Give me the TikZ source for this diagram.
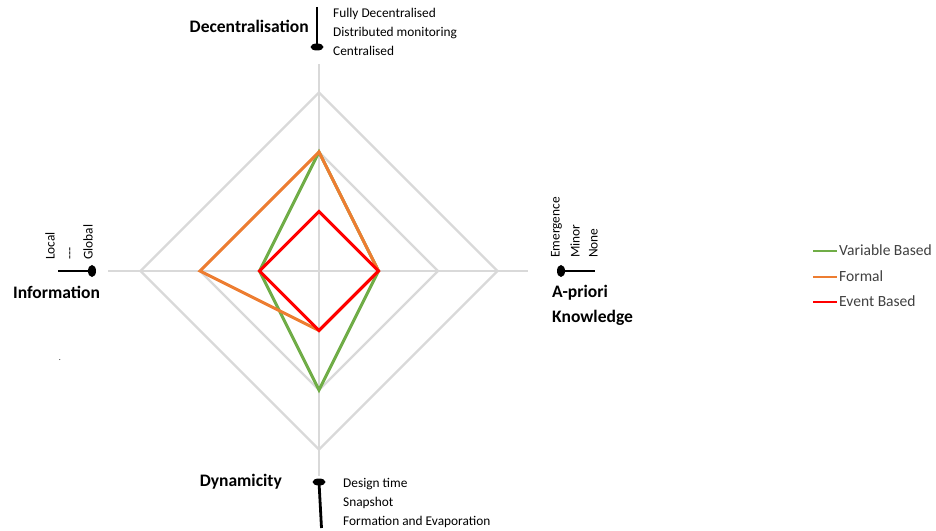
\documentclass[tikz,border=0pt]{standalone}
\usepackage{fontspec}
\setmainfont{Carlito}
\usetikzlibrary{calc,shapes.geometric}
\begin{document}
\begin{tikzpicture}[x=1bp,y=-1bp,
  grid/.style={draw=gridgray,line width=2.4bp},
  series/.style={line width=3bp,line join=miter},
  slider/.style={line width=2.8bp,black},
  knob/.style={ellipse,fill=black,inner sep=0pt},
  lbl/.style={font=\fontsize{13.4}{15}\selectfont,inner sep=0pt,text height=1.6ex,text depth=0.45ex},
  rlbl/.style={lbl,rotate=90,anchor=west},
  axisname/.style={font=\fontsize{17.6}{19}\selectfont\bfseries,inner sep=0pt,text height=1.6ex,text depth=0.45ex},
  leg/.style={font=\fontsize{15.6}{17}\selectfont,inner sep=0pt,anchor=west,text height=1.6ex,text depth=0.45ex,text=black!75}]
\definecolor{gridgray}{RGB}{217,217,217}
\definecolor{vgreen}{RGB}{112,173,71}
\definecolor{forange}{RGB}{237,125,49}
\definecolor{ered}{RGB}{255,0,0}
\useasboundingbox (0,0) rectangle (936,531);

% centre of the radar chart and scale steps
\coordinate (O) at (319,271);
\def\st{59.5}

% grid rings
\foreach \r in {1,2,3}{
  \draw[grid] ($(O)+(0,-\r*\st)$) -- ($(O)+(\r*\st,0)$) -- ($(O)+(0,\r*\st)$) -- ($(O)+(-\r*\st,0)$) -- cycle;
}
% axis spokes
\coordinate (axT) at (319,64);
\coordinate (axR) at (528,271);
\coordinate (axB) at (319,476);
\coordinate (axL) at (108,271);
\foreach \a in {axT,axR,axB,axL}{\draw[grid] (O) -- (\a);}

% data series
\draw[series,vgreen] ($(O)+(0,-2*\st)$) -- ($(O)+(\st,0)$) -- ($(O)+(0,2*\st)$) -- ($(O)+(-\st,0)$) -- cycle;
\draw[series,forange] ($(O)+(0,-2*\st)$) -- ($(O)+(\st,0)$) -- ($(O)+(0,\st)$) -- ($(O)+(-2*\st,0)$) -- cycle;
\draw[series,ered] ($(O)+(0,-\st)$) -- ($(O)+(\st,0)$) -- ($(O)+(0,\st)$) -- ($(O)+(-\st,0)$) -- cycle;

% Decentralisation slider
\coordinate (tTop) at (317,7);
\node[knob,minimum width=13bp,minimum height=7bp] (kT) at (317,47) {};
\draw[slider] (tTop) -- (kT.center);
\node[axisname,anchor=east] (nDec) at (309,30) {Decentralisation};
\node[lbl,anchor=west] (d1) at (333,15) {Fully Decentralised};
\node[lbl,anchor=west] (d2) at (333,34) {Distributed monitoring};
\node[lbl,anchor=west] (d3) at (333,53) {Centralised};

% Information slider
\coordinate (lEnd) at (58,271);
\node[knob,minimum width=8bp,minimum height=12bp] (kL) at (92,271) {};
\draw[slider] (lEnd) -- (kL.center);
\node[axisname,anchor=west] (nInf) at (13,296) {Information};
\node[rlbl] (i1) at (52,260) {Local};
\node[rlbl] (i2) at (71,260) {-{}-{}-};
\node[rlbl] (i3) at (90,260) {Global};
\node[font=\fontsize{8}{9}\selectfont,inner sep=0pt] (dot) at (60,360) {.};

% A-priori Knowledge slider
\coordinate (rEnd) at (595,271);
\node[knob,minimum width=8bp,minimum height=12bp] (kR) at (561,271) {};
\draw[slider] (kR.center) -- (rEnd);
\node[axisname,anchor=west] (nApr) at (552,295) {A-priori};
\node[axisname,anchor=west] (nKno) at (552,320) {Knowledge};
\node[rlbl] (a1) at (557,258) {Emergence};
\node[rlbl] (a2) at (577,258) {Minor};
\node[rlbl] (a3) at (595,258) {None};

% Dynamicity slider
\coordinate (bEnd) at (321.5,528);
\node[knob,minimum width=13bp,minimum height=7bp] (kB) at (319,482) {};
\draw[slider] (kB.center) -- (bEnd);
\node[axisname,anchor=east] (nDyn) at (282,484) {Dynamicity};
\node[lbl,anchor=west] (y1) at (343,485) {Design time};
\node[lbl,anchor=west] (y2) at (343,504) {Snapshot};
\node[lbl,anchor=west] (y3) at (343,523) {Formation and Evaporation};

% legend
\coordinate (g1) at (813,251); \coordinate (g2) at (837,251);
\coordinate (o1) at (813,277); \coordinate (o2) at (837,277);
\coordinate (r1) at (813,302); \coordinate (r2) at (837,302);
\draw[vgreen,line width=2.6bp] (g1) -- (g2);
\draw[forange,line width=2.6bp] (o1) -- (o2);
\draw[ered,line width=2.6bp] (r1) -- (r2);
\node[leg] (lg) at (839,253) {Variable Based};
\node[leg] (lo) at (839,279) {Formal};
\node[leg] (lr) at (839,304) {Event Based};
\end{tikzpicture}
\end{document}
